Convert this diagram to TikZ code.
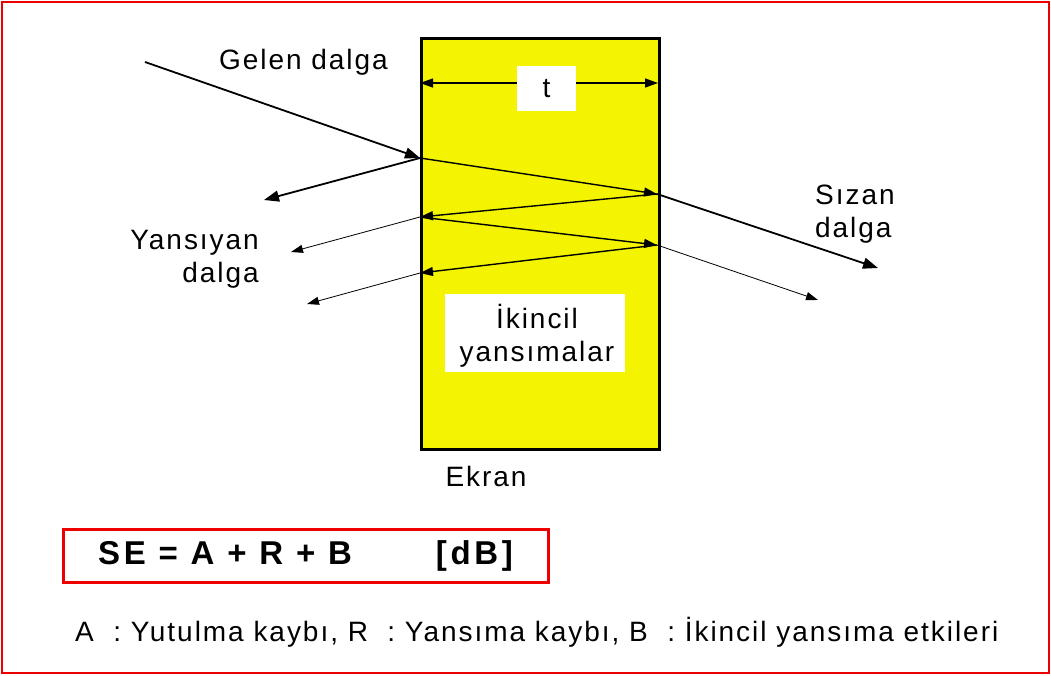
\documentclass[tikz,border=0pt]{standalone}
\usepackage{fontspec}
\setmainfont{Liberation Sans}[LetterSpace=7]
\usetikzlibrary{arrows.meta}
\definecolor{scryellow}{RGB}{244,244,0}
\definecolor{framered}{RGB}{238,0,0}
\begin{document}
\begin{tikzpicture}[x=1pt,y=-1pt,
  lbl/.style={font=\fontsize{28}{33}\selectfont, inner sep=0pt},
  bigray/.style={line width=1.8pt, -{Triangle[length=15pt,width=11pt]}},
  midray/.style={line width=1.4pt, -{Triangle[length=13pt,width=9pt]}},
  thinray/.style={line width=0.8pt, -{Triangle[length=12pt,width=8pt]}},
  whitebox/.style={fill=white, draw=none, inner sep=0pt}]
\useasboundingbox (0,0) rectangle (1051,675);
\draw[framered, line width=2pt] (2,2) rectangle (1049,673);
% screen
\node[draw, line width=2.5pt, fill=scryellow, minimum width=238pt, minimum height=411pt, inner sep=0pt, anchor=north west] (screen) at (420,37) {};
% thickness dimension
\coordinate (tl) at (420,83);
\coordinate (tr) at (658,83);
\draw[line width=1.3pt, {Triangle[length=13pt,width=9pt]}-{Triangle[length=13pt,width=9pt]}] (tl) -- (tr);
\node[whitebox, minimum width=59pt, minimum height=45pt, lbl] (t) at (546.5,88.5) {t};
% ray points
\coordinate (src) at (145,62);
\coordinate (L1) at (420,158);
\coordinate (R1) at (657,194);
\coordinate (L2) at (420,217);
\coordinate (R2) at (657,245);
\coordinate (L3) at (420,273);
\coordinate (re1) at (264,200);
\coordinate (re2) at (291,252);
\coordinate (re3) at (307,304);
\coordinate (tr1) at (878,268);
\coordinate (tr2) at (818,300);
\draw[bigray] (src) -- (L1);
\draw[bigray] (L1) -- (re1);
\draw[midray] (L1) -- (R1);
\draw[bigray] (R1) -- (tr1);
\draw[midray] (R1) -- (L2);
\draw[thinray] (L2) -- (re2);
\draw[midray] (L2) -- (R2);
\draw[thinray] (R2) -- (tr2);
\draw[midray] (R2) -- (L3);
\draw[thinray] (L3) -- (re3);
% labels
\node[lbl] (gelen) at (303.5,62) {Gelen dalga};
\node[lbl, align=left, anchor=west] (sizan) at (815,214) {Sızan\\dalga};
\node[lbl, align=right, anchor=east] (yans) at (259,259) {Yansıyan\\dalga};
\node[whitebox, minimum width=180pt, minimum height=78pt] (ikbox) at (535,333) {};
\node[lbl, align=center] (ik) at (537,336) {İkincil\\yansımalar};
\node[lbl] (ekran) at (486,476) {Ekran};
% formula
\node[draw=framered, line width=3pt, minimum width=485pt, minimum height=53pt, inner sep=0pt] (sebox) at (306,556) {};
\node[lbl, font=\fontsize{33}{33}\selectfont\bfseries\addfontfeature{LetterSpace=11}, anchor=west] (se) at (98,556) {SE = A + R + B\hspace{84pt}[dB]};
\node[lbl, anchor=west] (legend) at (75,632) {A\ \ : Yutulma kaybı, R\ \ : Yansıma kaybı, B\ \ : İkincil yansıma etkileri};
\end{tikzpicture}
\end{document}
